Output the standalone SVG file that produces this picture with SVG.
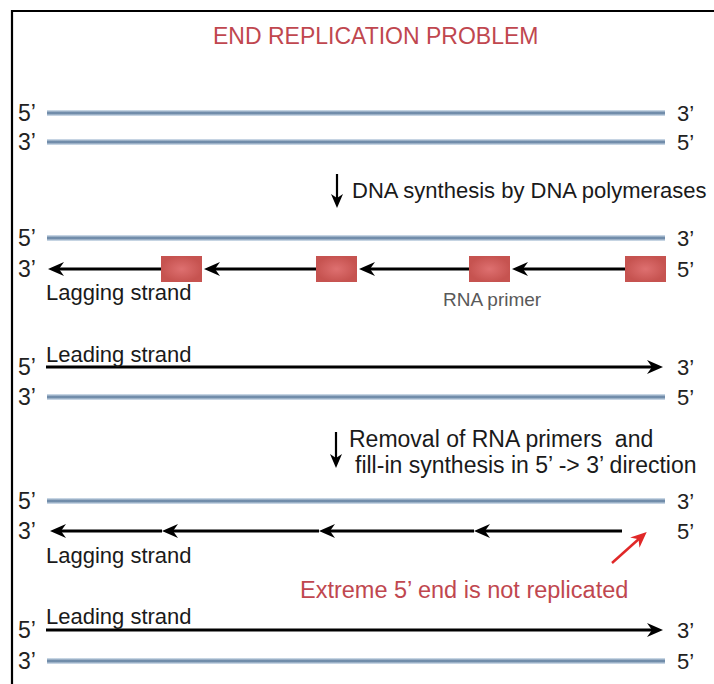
<svg xmlns="http://www.w3.org/2000/svg" width="714" height="684" viewBox="0 0 714 684">
<defs>
<style>
text{font-family:"Liberation Sans",Arial,sans-serif}
.lbl{font-size:23px;fill:#222}
.rl{font-size:22px;fill:#222}
.t{font-size:22px;fill:#1a1a1a}
.red{fill:#c0474f}
.gray{fill:#595959;font-size:19px}
.dna{fill:url(#bg)}
.strand{stroke:#000;stroke-width:3;fill:none}
.box{fill:url(#rg)}
</style>
<linearGradient id="bg" x1="0" y1="0" x2="0" y2="1"><stop offset="0" stop-color="#dbe6f1"/><stop offset="0.5" stop-color="#5c7b9c"/><stop offset="1" stop-color="#dbe6f1"/></linearGradient>
<radialGradient id="rg"><stop offset="0" stop-color="#de7070"/><stop offset="1" stop-color="#c65350"/></radialGradient>
<marker id="ah" viewBox="0 0 16 16" markerWidth="16" markerHeight="16" refX="11" refY="8" orient="auto" markerUnits="userSpaceOnUse"><path d="M0,1 L16,8 L0,15 L5,8 Z" fill="#000"/></marker>
<marker id="ahs" viewBox="0 0 14 14" markerWidth="14" markerHeight="14" refX="10" refY="7" orient="auto" markerUnits="userSpaceOnUse"><path d="M0,1 L14,7 L0,13 L4,7 Z" fill="#000"/></marker>
<marker id="ahr" viewBox="0 0 16 16" markerWidth="16" markerHeight="16" refX="11" refY="8" orient="auto" markerUnits="userSpaceOnUse"><path d="M0,1 L16,8 L0,15 L5,8 Z" fill="#e02828"/></marker>
</defs>
<rect width="714" height="684" fill="#fff"/>
<path d="M12,684 V11 H714" fill="none" stroke="#000" stroke-width="2.2"/>
<text id="title" class="red" x="213" y="44" font-size="23">END REPLICATION PROBLEM</text>

<g id="strands">
<rect class="dna" x="47" y="110" width="618" height="6"/>
<rect class="dna" x="47" y="139" width="618" height="6"/>
<rect class="dna" x="47" y="235" width="618" height="6"/>
<rect class="dna" x="47" y="394" width="618" height="6"/>
<rect class="dna" x="47" y="498" width="618" height="6"/>
<rect class="dna" x="47" y="658" width="618" height="6"/>
</g>

<g id="connectors">
<line class="strand" x1="625" y1="269" x2="517" y2="269" marker-end="url(#ah)"/>
<line class="strand" x1="469" y1="269" x2="364" y2="269" marker-end="url(#ah)"/>
<line class="strand" x1="316" y1="269" x2="209" y2="269" marker-end="url(#ah)"/>
<line class="strand" x1="161" y1="269" x2="53" y2="269" marker-end="url(#ah)"/>
<line class="strand" x1="46" y1="367" x2="658" y2="367" marker-end="url(#ah)"/>
<line class="strand" x1="622" y1="531" x2="479" y2="531" marker-end="url(#ah)"/>
<line class="strand" x1="474" y1="531" x2="324" y2="531" marker-end="url(#ah)"/>
<line class="strand" x1="319" y1="531" x2="167" y2="531" marker-end="url(#ah)"/>
<line class="strand" x1="162" y1="531" x2="55" y2="531" marker-end="url(#ah)"/>
<line class="strand" x1="46" y1="630" x2="658" y2="630" stroke-width="3.5" marker-end="url(#ah)"/>
<line x1="337" y1="174" x2="337" y2="204" stroke="#000" stroke-width="2.2" marker-end="url(#ahs)"/>
<line x1="336" y1="432" x2="336" y2="464" stroke="#000" stroke-width="2.2" marker-end="url(#ahs)"/>
<line x1="612" y1="563" x2="643" y2="535.3" stroke="#e02828" stroke-width="2.5" marker-end="url(#ahr)"/>
</g>

<g id="primers">
<rect class="box" x="161" y="256" width="41" height="26"/>
<rect class="box" x="316" y="256" width="41" height="26"/>
<rect class="box" x="469" y="256" width="41" height="26"/>
<rect class="box" x="625" y="256" width="41" height="26"/>
</g>

<g id="labels-left" class="lbl">
<text x="18" y="121">5’</text>
<text x="18" y="150">3’</text>
<text x="18" y="246">5’</text>
<text x="18" y="277">3’</text>
<text x="18" y="375">5’</text>
<text x="18" y="405">3’</text>
<text x="18" y="509">5’</text>
<text x="18" y="539">3’</text>
<text x="18" y="638">5’</text>
<text x="18" y="669">3’</text>
</g>
<g id="labels-right" class="rl">
<text x="677" y="121">3’</text>
<text x="677" y="150">5’</text>
<text x="677" y="246">3’</text>
<text x="677" y="277">5’</text>
<text x="677" y="375">3’</text>
<text x="677" y="405">5’</text>
<text x="677" y="509">3’</text>
<text x="677" y="539">5’</text>
<text x="677" y="638">3’</text>
<text x="677" y="669">5’</text>
</g>

<g id="notes" class="t">
<text x="352" y="198">DNA synthesis by DNA polymerases</text>
<text x="46" y="300">Lagging strand</text>
<text class="gray" x="443" y="306">RNA primer</text>
<text x="46" y="362">Leading strand</text>
<text x="349" y="447" font-size="23" xml:space="preserve">Removal of RNA primers  and</text>
<text x="355" y="473" font-size="23">fill-in synthesis in 5’ -&gt; 3’ direction</text>
<text x="46" y="563">Lagging strand</text>
<text class="red" x="300" y="598" font-size="23.5">Extreme 5’ end is not replicated</text>
<text x="46" y="624">Leading strand</text>
</g>
</svg>
